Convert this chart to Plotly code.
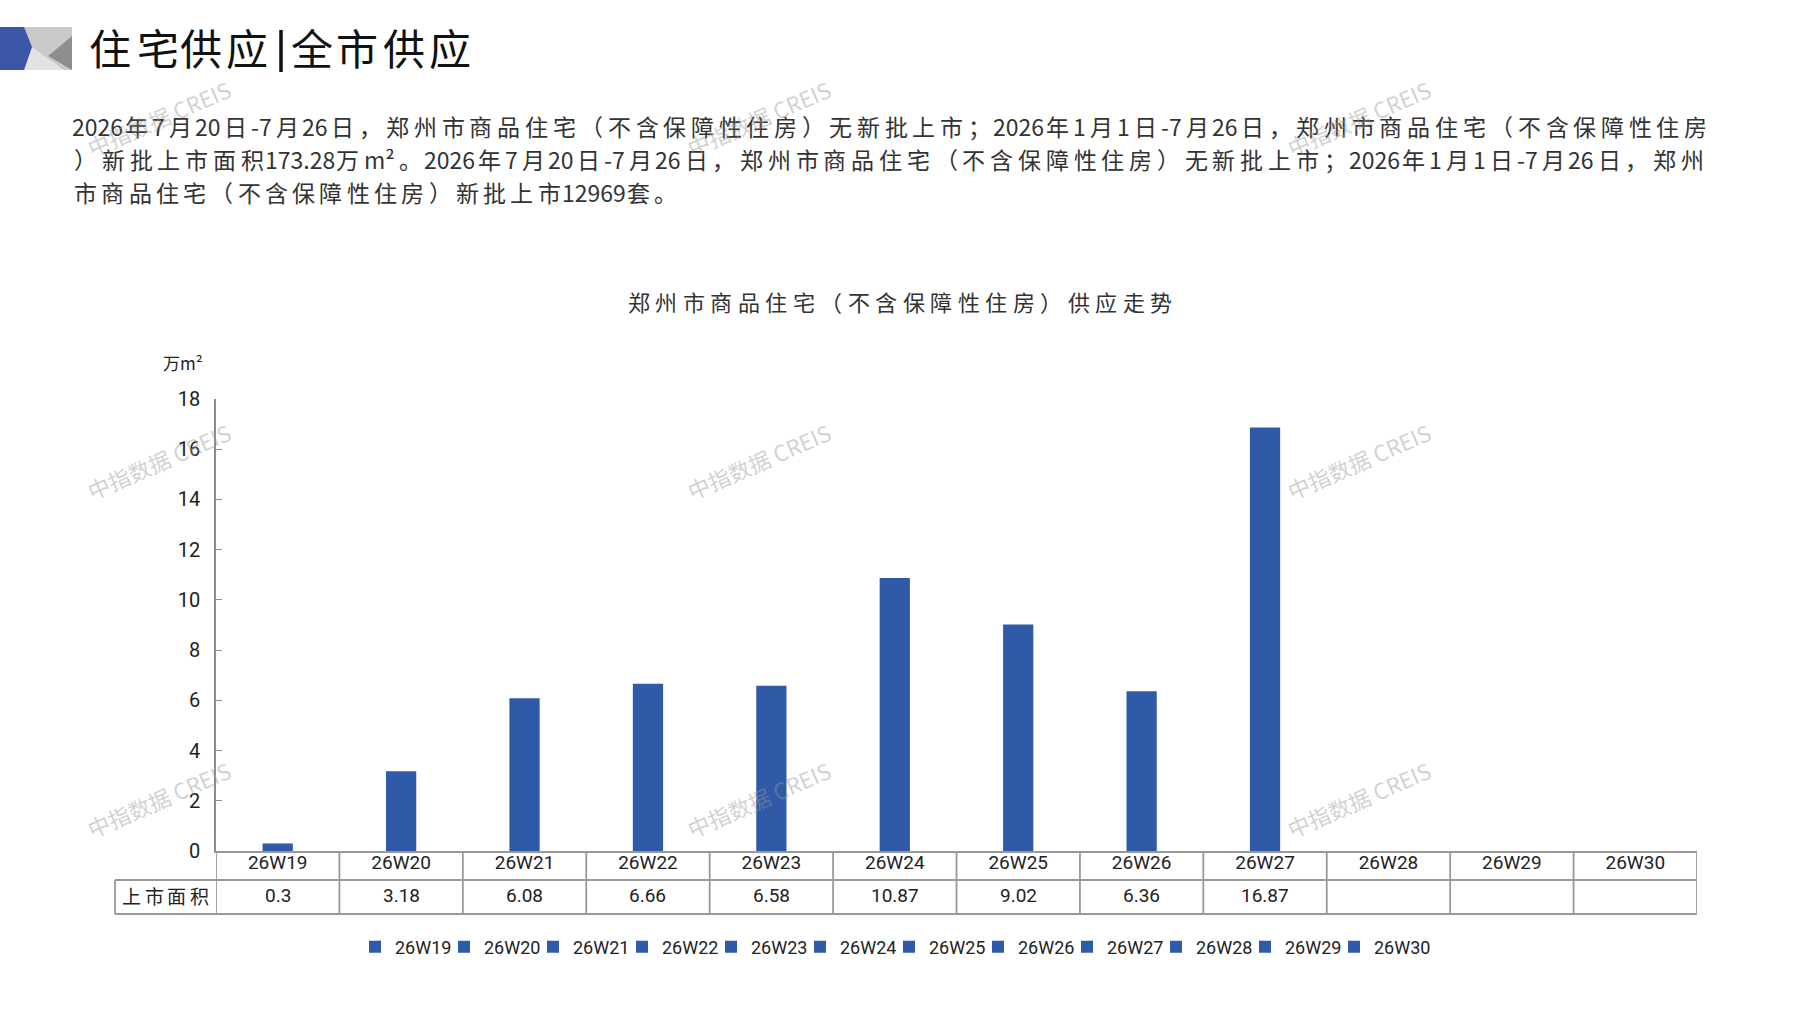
import plotly.graph_objects as go

# ---------------- data ----------------
categories = ["26W19", "26W20", "26W21", "26W22", "26W23", "26W24",
              "26W25", "26W26", "26W27", "26W28", "26W29", "26W30"]
supply_area = [0.3, 3.18, 6.08, 6.66, 6.58, 10.87, 9.02, 6.36, 16.87, None, None, None]
y_ticks = [0, 2, 4, 6, 8, 10, 12, 14, 16, 18]
row_label = "上市面积"
y_unit = "万m²"
page_title_left = "住宅供应"
page_title_right = "全市供应"
chart_title = "郑州市商品住宅（不含保障性住房）供应走势"
para_lines = [
    "2026年7月20日-7月26日，郑州市商品住宅（不含保障性住房）无新批上市；2026年1月1日-7月26日，郑州市商品住宅（不含保障性住房",
    "）新批上市面积173.28万m²。2026年7月20日-7月26日，郑州市商品住宅（不含保障性住房）无新批上市；2026年1月1日-7月26日，郑州",
    "市商品住宅（不含保障性住房）新批上市12969套。",
]
watermark_text = "中指数据 CREIS"

# ---------------- styles ----------------
W, H = 1797, 1010
PL, PR, PT, PB = 216, 1697, 399, 851
BLUE = "#2E5AA8"
GRID = "#999999"
CJK = "Noto Sans CJK SC"
NUM = "Roboto, Noto Sans CJK SC"


def fx(px):
    return (px - PL) / (PR - PL)


def fy(py):
    return (PB - py) / (PB - PT)


annotations = []
shapes = []


def add_text(px, py, text, size, color="#222", family=CJK, angle=0, xanchor="center"):
    annotations.append(dict(
        x=fx(px), y=fy(py), xref="paper", yref="paper", text=text, showarrow=False,
        xanchor=xanchor, yanchor="middle", textangle=angle,
        font=dict(size=size, color=color, family=family)))


def char_w(c, f):
    if ord(c) > 0x2E80:
        return f
    if c.isdigit():
        return 0.5 * f
    if c == "-":
        return 0.34 * f
    if c == ".":
        return 0.25 * f
    if c == "m":
        return 0.8 * f
    if c == "²":
        return 0.34 * f
    return 0.5 * f


def tokens(text):
    out, cur = [], ""
    for c in text:
        if ord(c) < 0x2E80:
            cur += c
        else:
            if cur:
                out.append(cur)
                cur = ""
            out.append(c)
    if cur:
        out.append(cur)
    return out


def place_chars(text, x_start, x_end, py, f, color):
    toks = tokens(text)
    widths = [sum(char_w(c, f) for c in t) for t in toks]
    gap = (x_end - x_start - sum(widths)) / (len(toks) - 1)
    x = x_start
    for t, w in zip(toks, widths):
        add_text(x + w / 2, py, t, f, color)
        x += w + gap


# ---------------- bars ----------------
fig = go.Figure()
for cat, val in zip(categories, supply_area):
    fig.add_trace(go.Bar(x=[cat], y=[val], name=cat, marker_color=BLUE,
                         marker_line_width=0, width=0.245, hoverinfo="x+y"))
# invisible spacer entry so the last legend label is not clipped
fig.add_trace(go.Bar(x=[categories[0]], y=[None], name="",
                     marker=dict(color="rgba(0,0,0,0)", line=dict(width=0, color="rgba(0,0,0,0)")),
                     hoverinfo="skip"))

# ---------------- table ----------------
ROW1, ROW2 = 880, 914
for i, val in enumerate(supply_area):
    if val is not None:
        annotations.append(dict(
            x=categories[i], y=fy(895), xref="x", yref="paper", text=f"{val:g}",
            showarrow=False, xanchor="center", yanchor="middle",
            font=dict(size=19, color="#222", family=NUM)))
place_chars(row_label, 122, 209, 895, 19, "#222")

line_style = dict(color=GRID, width=1.8)
for yy in (ROW1, ROW2):
    shapes.append(dict(type="line", xref="paper", yref="paper",
                       x0=fx(115), x1=1, y0=fy(yy), y1=fy(yy), line=line_style))
shapes.append(dict(type="line", xref="paper", yref="paper",
                   x0=fx(115), x1=fx(115), y0=fy(ROW1), y1=fy(ROW2), line=line_style))
for i in range(len(categories) + 1):
    shapes.append(dict(type="line", xref="x", yref="paper",
                       x0=i - 0.5, x1=i - 0.5, y0=0, y1=fy(ROW2), line=line_style))

# ---------------- header ----------------
shapes += [
    dict(type="rect", xref="paper", yref="paper", x0=fx(0), x1=fx(72), y0=fy(27), y1=fy(70),
         fillcolor="#C9C9C9", line=dict(width=0), layer="above"),
    dict(type="path", xref="paper", yref="paper",
         path=f"M{fx(24)},{fy(70)} L{fx(32)},{fy(47)} L{fx(64)},{fy(70)} Z",
         fillcolor="#E3E3E3", line=dict(width=0), layer="above"),
    dict(type="path", xref="paper", yref="paper",
         path=f"M{fx(72)},{fy(36)} L{fx(48)},{fy(56)} L{fx(72)},{fy(70)} Z",
         fillcolor="#8E8E8E", line=dict(width=0), layer="above"),
    dict(type="path", xref="paper", yref="paper",
         path=f"M{fx(0)},{fy(27)} L{fx(24)},{fy(27)} L{fx(32)},{fy(47)} L{fx(24)},{fy(70)} L{fx(0)},{fy(70)} Z",
         fillcolor="#3A56A5", line=dict(width=0), layer="above"),
    dict(type="line", xref="paper", yref="paper", x0=fx(281), x1=fx(281), y0=fy(30), y1=fy(72),
         line=dict(color="#111", width=3.5)),
]
for i, c in enumerate(page_title_left):
    add_text([110, 158, 201, 247][i], 46, c, 42, "#111")
for i, c in enumerate(page_title_right):
    add_text([312, 357, 404, 450][i], 46, c, 42, "#111")

# paragraph
place_chars(para_lines[0], 74, 1707, 125.5, 23, "#333")
place_chars(para_lines[1], 74, 1704, 158.5, 23, "#333")
place_chars(para_lines[2], 74, 677, 192, 23, "#333")

# chart title
place_chars(chart_title, 628, 1172, 300.5, 22, "#333")

# unit label
add_text(183, 362, y_unit, 17, "#222")

# watermarks
for wx in (158, 758, 1358):
    for wy in (118, 461, 799):
        add_text(wx, wy, watermark_text, 22, "rgba(150,150,150,0.45)",
                 family="Noto Sans CJK SC, Roboto", angle=-23.5)

fig.update_layout(
    width=W, height=H,
    margin=dict(l=PL, r=W - PR, t=PT, b=H - PB, pad=0),
    paper_bgcolor="white", plot_bgcolor="white",
    barmode="overlay",
    showlegend=True,
    legend=dict(orientation="h", x=fx(355), y=fy(947), xanchor="left", yanchor="middle",
                font=dict(size=18, color="#222", family=NUM),
                itemwidth=30, traceorder="normal", entrywidth=44),
    xaxis=dict(categoryorder="array", categoryarray=categories, range=[-0.5, 11.5],
               showline=True, linecolor=GRID, linewidth=2, ticks="", showgrid=False,
               tickfont=dict(size=19, color="#222", family=NUM), ticklabelstandoff=-7,
               fixedrange=True),
    yaxis=dict(range=[0, 18], tickvals=y_ticks, showline=True, linecolor="#8C8C8C",
               linewidth=1.5, ticks="inside", ticklen=6, tickcolor="#8C8C8C",
               showgrid=False, zeroline=False, ticklabelstandoff=10,
               tickfont=dict(size=20, color="#222", family=NUM), fixedrange=True),
    annotations=annotations,
    shapes=shapes,
    font=dict(family=NUM),
)

fig.write_html("out.html", config={"displayModeBar": False},
               post_script="document.body.style.margin='0';document.body.style.overflow='hidden';")
